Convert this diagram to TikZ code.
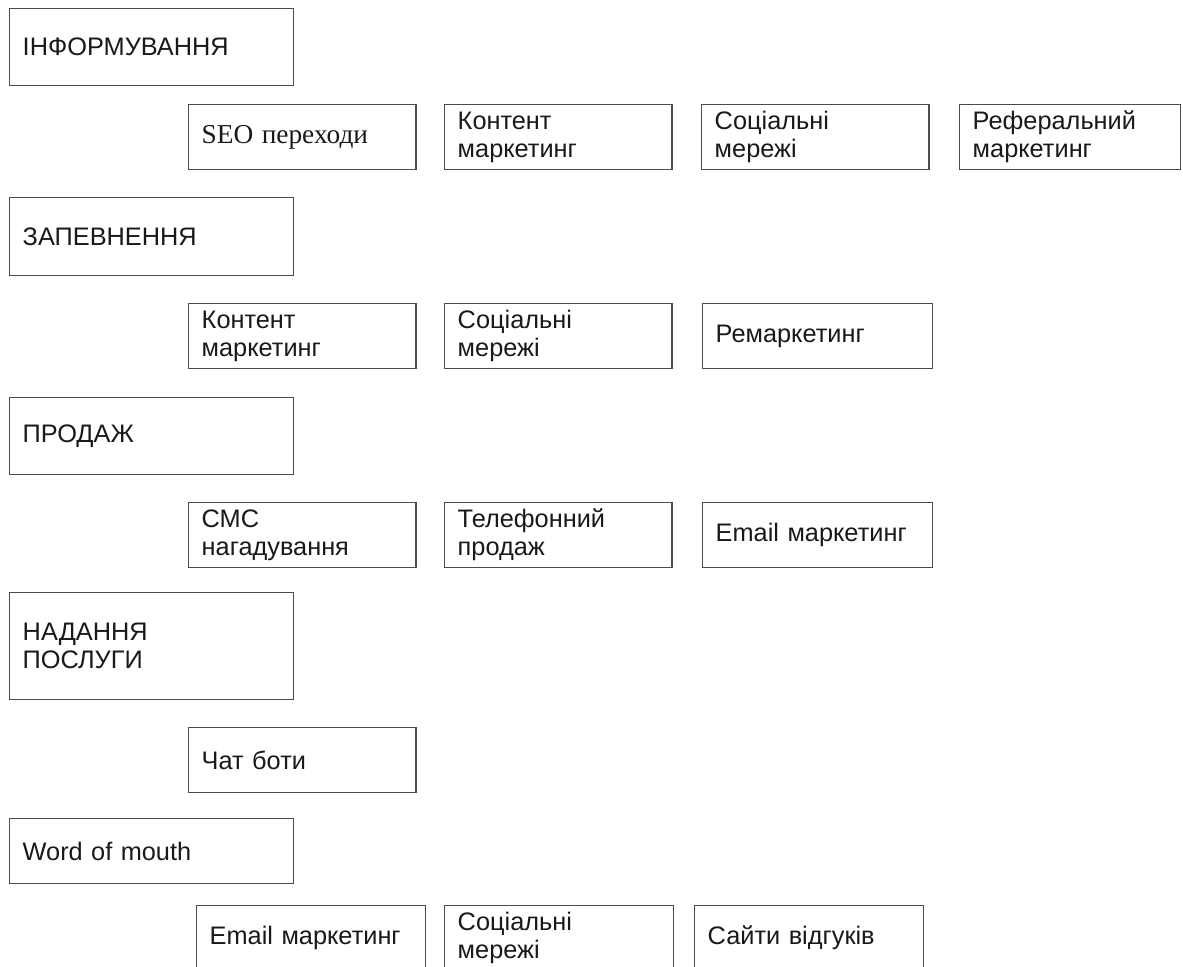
\documentclass[tikz,border=0pt]{standalone}
\usepackage{fontspec}
\setmainfont{Liberation Sans}
\newfontfamily\seofont{Liberation Serif}

\tikzset{
  box/.style={draw=black!70, line width=1.1pt, anchor=north west, align=left,
    inner xsep=9.75pt, inner ysep=2pt, text=black!90,
    font=\fontsize{19}{21}\selectfont},
  stage/.style={box, text width=193.5pt, minimum height=57.75pt},
  tool/.style={box, text width=151pt, minimum height=48.4pt},
}

\begin{document}
\begin{tikzpicture}[x=0.75pt,y=-0.75pt]
  \useasboundingbox (0,0) rectangle (1183,967);
  \clip (0,0) rectangle (1183,967);

  \node[stage] (inform) at (9,8) {ІНФОРМУВАННЯ};
  \node[tool] (seo) at (188,104) {\seofont\fontsize{20.5}{21}\selectfont SEO переходи};
  \node[tool] (content1) at (444,104) {Контент\\маркетинг};
  \node[tool] (social1) at (701,104) {Соціальні\\мережі};
  \node[tool, text width=146pt] (referral) at (959,104) {Реферальний\\маркетинг};

  \node[stage, minimum height=58.5pt] (assure) at (9,197) {ЗАПЕВНЕННЯ};
  \node[tool] (content2) at (188,303) {Контент\\маркетинг};
  \node[tool] (social2) at (444,303) {Соціальні\\мережі};
  \node[tool, text width=153pt] (remarket) at (702,303) {Ремаркетинг};

  \node[stage] (sale) at (9,397) {ПРОДАЖ};
  \node[tool] (sms) at (188,502) {СМС\\нагадування};
  \node[tool] (phone) at (444,502) {Телефонний\\продаж};
  \node[tool, text width=153pt] (email1) at (702,502) {Email маркетинг};

  \node[stage, minimum height=80.25pt] (service) at (9,592) {НАДАННЯ\\ПОСЛУГИ};
  \node[tool] (chatbot) at (188,727) {Чат боти};

  \node[stage, minimum height=48.75pt] (mouth) at (9,818) {Word of mouth};
  \node[tool, text width=152pt] (email2) at (196,905) {Email маркетинг};
  \node[tool, text width=152pt] (social3) at (444,905) {Соціальні\\мережі};
  \node[tool, text width=152pt] (reviews) at (694,905) {Сайти відгуків};
\end{tikzpicture}
\end{document}
